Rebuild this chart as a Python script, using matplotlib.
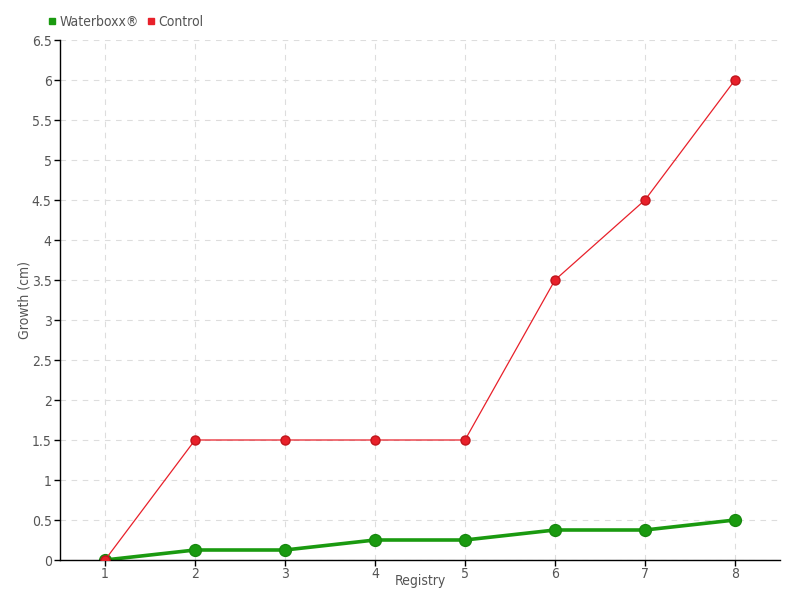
import matplotlib
matplotlib.use('Agg')
import matplotlib.pyplot as plt
from matplotlib.lines import Line2D

registry = [1, 2, 3, 4, 5, 6, 7, 8]
waterboxx = [0, 0.125, 0.125, 0.25, 0.25, 0.375, 0.375, 0.5]
control = [0, 1.5, 1.5, 1.5, 1.5, 3.5, 4.5, 6]
yticks = [0, 0.5, 1, 1.5, 2, 2.5, 3, 3.5, 4, 4.5, 5, 5.5, 6, 6.5]

green = '#1a9a10'
red = '#e8202a'
text_col = '#555555'

plt.rcParams['font.family'] = ['DejaVu Sans']
plt.rcParams['font.stretch'] = 'condensed'

fig = plt.figure(figsize=(8, 6), dpi=100)
ax = fig.add_axes([60 / 800, 40 / 600, 720 / 800, 520 / 600])

ax.plot(registry, control, color=red, lw=0.9, marker='o', ms=6.5,
        markerfacecolor=red, markeredgecolor='#c0151c', zorder=3)
ax.plot(registry, waterboxx, color=green, lw=2.6, marker='o', ms=8.5,
        markerfacecolor=green, markeredgecolor='#178a0e', zorder=2)

ax.set_xlim(0.5, 8.5)
ax.set_ylim(0, 6.5)
ax.set_xticks(registry)
ax.set_yticks(yticks)
ax.set_yticklabels([f"{v:g}" for v in yticks])

ax.grid(True, color='#dddddd', linestyle=(0, (5, 5)), lw=0.8)
ax.set_axisbelow(True)
for s in ['top', 'right']:
    ax.spines[s].set_visible(False)
for s in ['left', 'bottom']:
    ax.spines[s].set_color('black')
    ax.spines[s].set_linewidth(1)

ax.tick_params(axis='both', colors='black', labelcolor=text_col, labelsize=10,
               length=4, width=1, direction='out')
ax.tick_params(axis='x', pad=1)
ax.tick_params(axis='y', pad=2)

ax.xaxis.set_label_coords(0.5, -14 / 520)
ax.set_xlabel('Registry', color=text_col, fontsize=10, va='top')
ax.yaxis.set_label_coords(-28 / 720, 0.5)
ax.set_ylabel('Growth (cm)', color=text_col, fontsize=10)

handles = [
    Line2D([], [], linestyle='none', marker='s', ms=5, color=green),
    Line2D([], [], linestyle='none', marker='s', ms=5, color=red),
]
fig.legend(handles, ['Waterboxx®', 'Control'], loc='center left',
           bbox_to_anchor=(48 / 800, 1 - 22 / 600), ncol=2, frameon=False,
           handlelength=0.6, handletextpad=0.2, columnspacing=0.6,
           fontsize=10, labelcolor=text_col, borderaxespad=0, borderpad=0)

fig.savefig('out.png', dpi=100)
